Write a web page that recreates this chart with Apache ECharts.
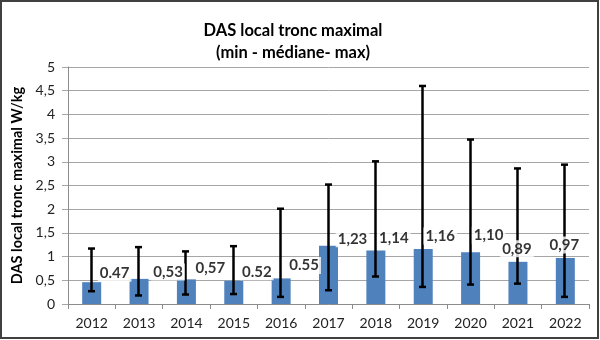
<!DOCTYPE html>
<html>
<head>
<meta charset="utf-8">
<script src="https://cdn.jsdelivr.net/npm/echarts@6/dist/echarts.min.js"></script>
<style>html,body{margin:0;padding:0;background:#fff}#c{width:600px;height:340px}</style>
</head>
<body>
<div id="c"></div>
<script>
var categories = ['2012','2013','2014','2015','2016','2017','2018','2019','2020','2021','2022'];
var medians = [0.46, 0.53, 0.52, 0.49, 0.54, 1.23, 1.13, 1.16, 1.09, 0.89, 0.97];
var mins = [0.27, 0.18, 0.20, 0.21, 0.15, 0.29, 0.58, 0.36, 0.41, 0.43, 0.15];
var maxs = [1.17, 1.20, 1.11, 1.22, 2.01, 2.52, 3.01, 4.60, 3.47, 2.86, 2.94];
var labelTexts = ['0.47','0,53','0,57','0.52','0.55','1,23','1,14','1,16','1,10','0,89','0,97'];
var yTicks = ['0','0,5','1','1,5','2','2,5','3','3,5','4','4,5','5'];

// layout: label offsets (px) relative to bar top center
var labelOffsets = [[23,-9],[29,-7],[24,-11],[23,-9],[23,-13],[24,-7],[18,-12],[17,-13],[18,-17],[-1,-13],[-1,-13]];

var FONT = 'Lato';
var chart = echarts.init(document.getElementById('c'), null, {renderer:'canvas'});

var errData = categories.map(function(c,i){ return [i, mins[i], maxs[i]]; });
var lblData = categories.map(function(c,i){
  return {
    value: [i, medians[i]],
    label: {offset: labelOffsets[i], formatter: labelTexts[i]}
  };
});

chart.setOption({
  animation: false,
  textStyle: {fontFamily: FONT},
  title: {
    text: 'DAS local tronc maximal\n(min - médiane- max)',
    left: 288, top: 15, textAlign: 'center',
    textStyle: {fontFamily: FONT, fontWeight: 'bold', fontSize: 16.5, color: '#000', lineHeight: 22}
  },
  graphic: [{
    type: 'rect', shape: {x: 1, y: 1, width: 597, height: 337},
    style: {fill: 'none', stroke: '#404040', lineWidth: 2}, z: 100
  }],
  grid: {left: 68, right: 11, top: 67, bottom: 36},
  xAxis: {
    type: 'category', data: categories,
    axisLine: {lineStyle: {color: '#8c8c8c', width: 1}},
    axisTick: {show: true, alignWithLabel: false, length: 5, lineStyle: {color: '#8c8c8c'}},
    axisLabel: {color: '#222', fontSize: 14, margin: 12, fontFamily: FONT}
  },
  yAxis: {
    type: 'value', min: 0, max: 5, interval: 0.5,
    name: 'DAS local tronc maximal W/kg', nameLocation: 'middle', nameGap: 39,
    nameTextStyle: {fontWeight: 'bold', fontSize: 14.5, color: '#000', fontFamily: FONT},
    axisLine: {show: true, lineStyle: {color: '#8c8c8c'}},
    axisTick: {show: true, length: 6, lineStyle: {color: '#a6a6a6'}},
    splitLine: {lineStyle: {color: '#a6a6a6', width: 1}},
    axisLabel: {
      color: '#222', fontSize: 14, margin: 13, fontFamily: FONT,
      formatter: function(v){ return yTicks[Math.round(v*2)]; }
    }
  },
  series: [
    {
      type: 'bar', data: medians, barWidth: 19, z: 2,
      itemStyle: {color: '#4f81bd'}
    },
    {
      type: 'custom', z: 3, data: errData,
      renderItem: function(params, api){
        var i = api.value(0);
        var lo = api.coord([i, api.value(1)]);
        var hi = api.coord([i, api.value(2)]);
        var x = Math.round(lo[0]) - 0.5;
        var cap = 3.5;
        var st = {stroke: '#000', lineWidth: 2.5};
        return {type: 'group', children: [
          {type: 'line', shape: {x1: x, y1: lo[1], x2: x, y2: hi[1]}, style: st},
          {type: 'line', shape: {x1: x-cap, y1: lo[1], x2: x+cap, y2: lo[1]}, style: st},
          {type: 'line', shape: {x1: x-cap, y1: hi[1], x2: x+cap, y2: hi[1]}, style: st}
        ]};
      }
    },
    {
      type: 'scatter', z: 5, symbolSize: 0, data: lblData,
      label: {
        show: true, position: 'inside', fontFamily: FONT, fontWeight: 'bold', fontSize: 15,
        color: '#000', backgroundColor: '#fff', padding: [1, 2]
      }
    }
  ]
});
</script>
</body>
</html>
